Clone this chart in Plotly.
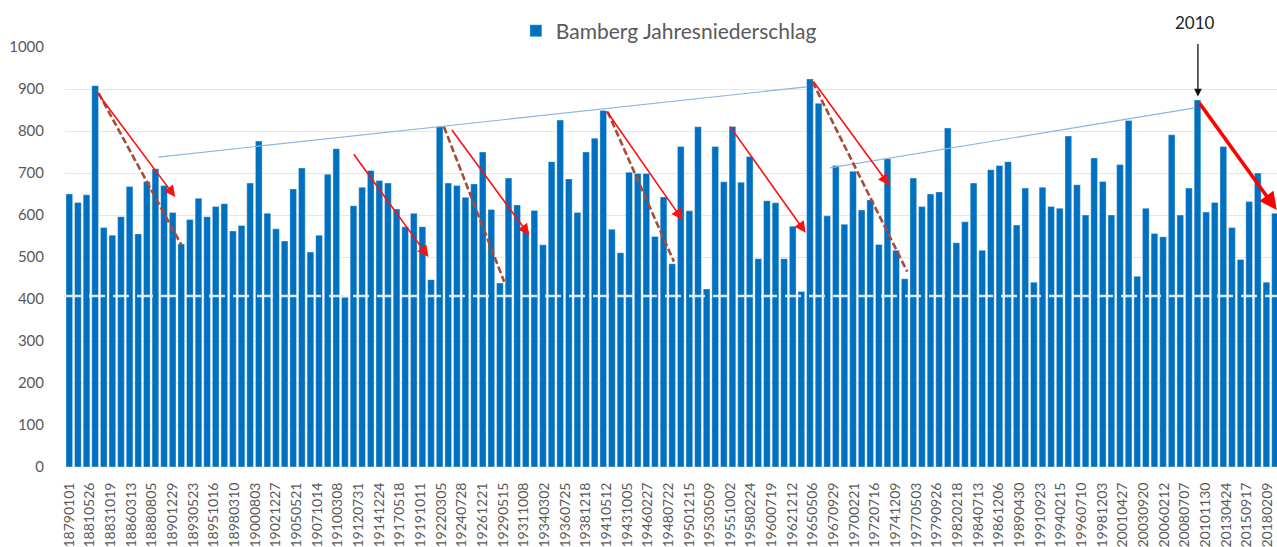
import plotly.graph_objects as go
import pandas as pd

# ---------------- data ----------------
years = list(range(1879, 2020))
precip = [
    650, 630, 648, 908, 570, 552, 596, 668, 555, 680,   # 1879-1888
    710, 670, 606, 531, 589, 640, 596, 620, 627, 562,   # 1889-1898
    575, 676, 776, 604, 567, 538, 662, 712, 512, 552,   # 1899-1908
    697, 758, 404, 622, 666, 706, 682, 676, 614, 572,   # 1909-1918
    604, 572, 446, 810, 676, 670, 642, 674, 750, 613,   # 1919-1928
    438, 688, 624, 562, 611, 529, 727, 826, 686, 606,   # 1929-1938
    750, 783, 849, 566, 510, 702, 699, 699, 549, 643,   # 1939-1948
    484, 763, 610, 810, 424, 763, 679, 811, 678, 739,   # 1949-1958
    496, 634, 629, 496, 573, 418, 924, 866, 598, 718,   # 1959-1968
    578, 704, 612, 636, 530, 734, 516, 448, 688, 620,   # 1969-1978
    650, 655, 807, 534, 584, 676, 516, 708, 718, 727,   # 1979-1988
    576, 664, 440, 666, 620, 616, 788, 672, 600, 736,   # 1989-1998
    680, 600, 720, 825, 454, 616, 556, 548, 791, 600,   # 1999-2008
    664, 874, 607, 630, 763, 570, 494, 632, 700, 440,   # 2009-2018
    604,                                                # 2019
]

tick_labels = [
    "18790101", "18810526", "18831019", "18860313", "18880805", "18901229",
    "18930523", "18951016", "18980310", "19000803", "19021227", "19050521",
    "19071014", "19100308", "19120731", "19141224", "19170518", "19191011",
    "19220305", "19240728", "19261221", "19290515", "19311008", "19340302",
    "19360725", "19381218", "19410512", "19431005", "19460227", "19480722",
    "19501215", "19530509", "19551002", "19580224", "19600719", "19621212",
    "19650506", "19670929", "19700221", "19720716", "19741209", "19770503",
    "19790926", "19820218", "19840713", "19861206", "19890430", "19910923",
    "19940215", "19960710", "19981203", "20010427", "20030920", "20060212",
    "20080707", "20101130", "20130424", "20150917", "20180209",
]

y_ticks = [0, 100, 200, 300, 400, 500, 600, 700, 800, 900, 1000]

series_name = "Bamberg Jahresniederschlag"
marker_year = 2010
baseline_value = 407

# annotation lines: (x0, y0, x1, y1) in years / mm
red_arrows = [
    (1882.1, 895, 1891.3, 643),
    (1911.9, 748, 1920.7, 500),
    (1923.3, 806, 1932.4, 552),
    (1941.3, 850, 1950.2, 588),
    (1955.6, 814, 1964.5, 558),
    (1965.3, 921, 1974.2, 671),
]
thick_red_arrow = (2010.1, 870, 2019.2, 612)
dashed_lines = [
    (1882.4, 890, 1892.0, 529),
    (1922.5, 810, 1929.5, 441),
    (1941.5, 846, 1949.2, 489),
    (1965.3, 917, 1976.3, 465),
]
trend_lines = [
    (1889.35, 738, 1964.6, 905),
    (1967.3, 712, 2009.7, 855),
]


def frac_year(s):
    d = pd.Timestamp(s)
    start = pd.Timestamp(year=d.year, month=1, day=1)
    end = pd.Timestamp(year=d.year + 1, month=1, day=1)
    return d.year + (d - start) / (end - start)


tick_pos = [frac_year(s) for s in tick_labels]

FONT = "Lato, 'Open Sans', sans-serif"
GREY = "#595959"
BLUE = "#0070C0"

fig = go.Figure()
fig.add_trace(go.Bar(
    x=years, y=precip, name=series_name,
    marker=dict(color=BLUE, line=dict(color="rgba(255,255,255,0.6)", width=0.6)),
    showlegend=True,
))

shapes = []
# white dashed reference line
shapes.append(dict(type="line", xref="paper", x0=0, x1=1, yref="y",
                   y0=baseline_value, y1=baseline_value,
                   line=dict(color="rgba(232,238,247,0.95)", width=2.4, dash="16px,8px"),
                   layer="above"))
for (x0, y0, x1, y1) in trend_lines:
    shapes.append(dict(type="line", xref="x", yref="y", x0=x0, y0=y0, x1=x1, y1=y1,
                       line=dict(color="#8DB4E2", width=1.2), layer="above"))
for (x0, y0, x1, y1) in dashed_lines:
    shapes.append(dict(type="line", xref="x", yref="y", x0=x0, y0=y0, x1=x1, y1=y1,
                       line=dict(color="#A84A36", width=2.6, dash="7px,3px"), layer="above"))

annotations = []
for (x0, y0, x1, y1) in red_arrows:
    annotations.append(dict(x=x1, y=y1, ax=x0, ay=y0, xref="x", yref="y",
                            axref="x", ayref="y", text="", showarrow=True,
                            arrowhead=2, arrowsize=1.4, arrowwidth=1.6,
                            arrowcolor="#FF1010"))
x0, y0, x1, y1 = thick_red_arrow
annotations.append(dict(x=x1, y=y1, ax=x0, ay=y0, xref="x", yref="y",
                        axref="x", ayref="y", text="", showarrow=True,
                        arrowhead=2, arrowsize=1.0, arrowwidth=3.5,
                        arrowcolor="#FF0000"))
# black arrow and label for 2010
annotations.append(dict(x=marker_year + 0.05, y=precip[years.index(marker_year)] + 8,
                        xref="x", yref="y", ax=0, ay=-54, text="", showarrow=True,
                        arrowhead=2, arrowsize=1.2, arrowwidth=1.3, arrowcolor="#111111"))
annotations.append(dict(x=marker_year - 0.3, y=1.058, xref="x", yref="paper",
                        text=str(marker_year), showarrow=False,
                        font=dict(family=FONT, size=17, color="#222222"),
                        xanchor="center", yanchor="middle"))

fig.update_layout(
    width=1277, height=547,
    margin=dict(l=65, r=0, t=47, b=80, autoexpand=False),
    paper_bgcolor="white", plot_bgcolor="white",
    bargap=0.22,
    font=dict(family=FONT, color=GREY),
    showlegend=True,
    legend=dict(orientation="h", x=0.372, xanchor="left", y=1.038, yanchor="middle",
                font=dict(family=FONT, size=21, color=GREY),
                bgcolor="rgba(0,0,0,0)"),
    xaxis=dict(range=[1878.5, 2019.23], tickmode="array", tickvals=tick_pos,
               ticktext=tick_labels, tickangle=-90, showgrid=False, zeroline=False,
               showline=False, ticks="outside", ticklen=9, tickcolor="rgba(0,0,0,0)",
               automargin=False,
               tickfont=dict(family=FONT, size=14, color=GREY)),
    yaxis=dict(range=[0, 1000], tickmode="array", tickvals=y_ticks,
               showgrid=True, gridcolor="#E6E6E6", gridwidth=1, zeroline=False,
               showline=False, ticks="outside", ticklen=17, tickcolor="rgba(0,0,0,0)",
               automargin=False,
               tickfont=dict(family=FONT, size=15, color=GREY)),
    shapes=shapes,
    annotations=annotations,
)

# remove the default page margin so the figure sits at the window's top-left corner
fig.write_html(
    "out.html",
    config={"displayModeBar": False},
    post_script="document.body.style.margin='0';document.body.style.overflow='hidden';",
)
